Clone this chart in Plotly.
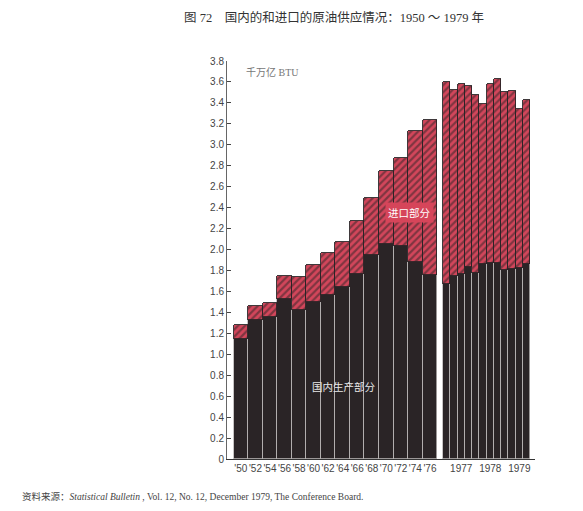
import plotly.graph_objects as go

# I: datos (unidad: 千万亿 BTU)
years_biennial = [1950, 1952, 1954, 1956, 1958, 1960, 1962, 1964, 1966, 1968, 1970, 1972, 1974, 1976]
domestic_biennial = [1.15, 1.33, 1.36, 1.53, 1.42, 1.50, 1.57, 1.64, 1.77, 1.95, 2.05, 2.03, 1.88, 1.76]
imports_biennial = [0.13, 0.13, 0.13, 0.22, 0.32, 0.35, 0.40, 0.43, 0.50, 0.54, 0.70, 0.84, 1.25, 1.48]

quarter_years = [1977, 1977, 1977, 1977, 1978, 1978, 1978, 1978, 1979, 1979, 1979, 1979]
quarter_nums = [1, 2, 3, 4, 1, 2, 3, 4, 1, 2, 3, 4]
domestic_quarterly = [1.67, 1.75, 1.77, 1.83, 1.78, 1.86, 1.87, 1.87, 1.80, 1.81, 1.82, 1.86]
imports_quarterly = [1.93, 1.77, 1.81, 1.73, 1.70, 1.53, 1.71, 1.76, 1.70, 1.70, 1.52, 1.57]

left_ticktext = ["'50", "'52", "'54", "'56", "'58", "'60", "'62", "'64", "'66", "'68", "'70", "'72", "'74", "'76"]
right_ticktext = ["1977", "1978", "1979"]

# II: posiciones en el eje (2 unidades por barra bienal, 1 por trimestre)
gap = 0.8
left_x = [y - 1950 + 1 for y in years_biennial]
right_start = 2 * len(years_biennial) + gap
right_x = [right_start + (y - 1977) * 4 + (q - 1) + 0.5 for y, q in zip(quarter_years, quarter_nums)]

x_all = left_x + right_x
widths = [2] * len(left_x) + [1] * len(right_x)
domestic = domestic_biennial + domestic_quarterly
imports = imports_biennial + imports_quarterly

dark = "#2a2426"
red = "#d3465b"

fig = go.Figure()
fig.add_trace(go.Bar(x=x_all, y=domestic, width=widths, name="国内生产部分",
                     marker=dict(color=dark, line=dict(color="#b8b4b4", width=0.8))))
fig.add_trace(go.Bar(x=x_all, y=imports, width=widths, name="进口部分",
                     marker=dict(color=red, line=dict(color=dark, width=0.9),
                                 pattern=dict(shape="/", fgcolor=dark, bgcolor=red,
                                              size=5, solidity=0.45))))

tickvals = left_x + [right_x[2], right_x[6], right_x[10]]
ticktext = left_ticktext + right_ticktext

# III: graficando (la pagina tiene 8px de margen en body)
fig.update_layout(
    barmode="stack", bargap=0, showlegend=False,
    width=583, height=511,
    margin=dict(l=219, r=56, t=53, b=60),
    paper_bgcolor="white", plot_bgcolor="white",
    font=dict(family="Liberation Sans, Arial, sans-serif", size=10, color="#333333"),
    xaxis=dict(range=[-0.91, 41.45], tickvals=tickvals, ticktext=ticktext,
               showline=True, linecolor="#333333", linewidth=1, ticks="",
               showgrid=False, zeroline=False, tickangle=0,
               tickfont=dict(size=10, color="#444444")),
    yaxis=dict(range=[0, 3.8], tickvals=[i / 5 for i in range(20)],
               ticktext=["0"] + ["%.1f" % (i / 5) for i in range(1, 20)],
               ticks="inside", ticklen=4, tickcolor="#444444",
               showline=True, linecolor="#666666", linewidth=1,
               showgrid=False, zeroline=False,
               tickfont=dict(size=10, color="#444444")),
)

serif = "Liberation Serif, Noto Sans CJK SC, serif"
fig.add_annotation(text="图 72　国内的和进口的原油供应情况：1950 ～ 1979 年",
                   xref="paper", yref="paper", x=0.347, y=1.11, yanchor="middle",
                   showarrow=False, font=dict(family=serif, size=12.5, color="#333333"))
fig.add_annotation(text="千万亿 BTU", xref="paper", yref="paper", x=0.055, y=0.972,
                   xanchor="left", yanchor="middle", showarrow=False,
                   font=dict(family=serif, size=10, color="#777777"))
fig.add_annotation(text="进口部分", xref="paper", yref="paper", x=0.591, y=0.62,
                   yanchor="middle", showarrow=False, bgcolor="#d6455a", borderpad=2,
                   font=dict(family="Noto Sans CJK SC", size=10.5, color="white"))
fig.add_annotation(text="国内生产部分", xref="paper", yref="paper", x=0.38, y=0.183,
                   yanchor="middle", showarrow=False,
                   font=dict(family="Noto Sans CJK SC", size=10.5, color="#e8e8e8"))
fig.add_annotation(text="资料来源：<i>Statistical Bulletin</i> , Vol. 12, No. 12, December 1979, The Conference Board.",
                   xref="paper", yref="paper", x=-0.672, y=-0.095, xanchor="left",
                   yanchor="middle", showarrow=False,
                   font=dict(family=serif, size=9.5, color="#444444"))

fig.write_html("out.html")
